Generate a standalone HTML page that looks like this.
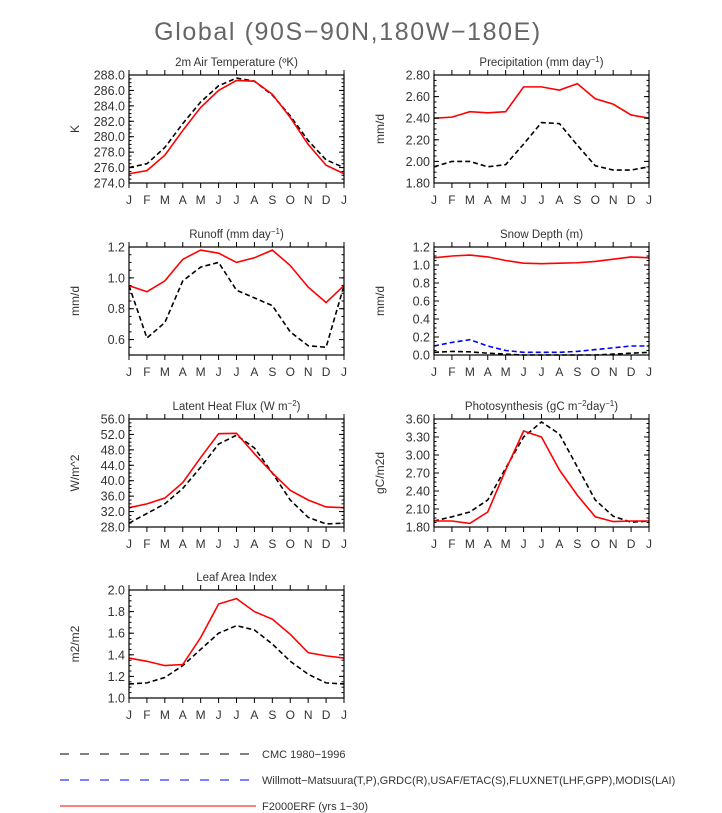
<!DOCTYPE html>
<html><head><meta charset="utf-8">
<style>
body{margin:0;background:#fff;width:722px;height:813px;overflow:hidden;font-family:"Liberation Sans",sans-serif;}
svg{display:block}
text{font-family:"Liberation Sans",sans-serif;fill:#333}
</style></head><body>
<svg id="fig" width="722" height="813" viewBox="0 0 722 813">
<text x="348" y="40" text-anchor="middle" font-size="25" letter-spacing="1.6" style="fill:#666">Global (90S−90N,180W−180E)</text>
<g>
 <line x1="60" y1="754" x2="256" y2="754" stroke="#000" stroke-width="1" stroke-dasharray="9,11"/>
 <text x="262" y="758" font-size="11">CMC 1980−1996</text>
 <line x1="60" y1="780" x2="256" y2="780" stroke="#00f" stroke-width="1" stroke-dasharray="9,11"/>
 <text x="262" y="784" font-size="11">Willmott−Matsuura(T,P),GRDC(R),USAF/ETAC(S),FLUXNET(LHF,GPP),MODIS(LAI)</text>
 <line x1="60" y1="806" x2="256" y2="806" stroke="#f00" stroke-width="1"/>
 <text x="262" y="810" font-size="11">F2000ERF (yrs 1−30)</text>
</g>
</svg>
<script>
const months=["J","F","M","A","M","J","J","A","S","O","N","D","J"];
const tempModel=[275.2,275.6,277.6,280.8,283.8,286.0,287.3,287.2,285.5,282.5,279.0,276.3,275.2];
const tempCmc=[276.0,276.5,278.6,281.7,284.5,286.6,287.6,287.2,285.4,282.7,279.5,277.0,276.0];
const precModel=[2.40,2.41,2.46,2.45,2.46,2.69,2.69,2.66,2.72,2.58,2.53,2.43,2.40];
const precCmc=[1.95,2.00,2.00,1.95,1.97,2.16,2.36,2.35,2.15,1.96,1.92,1.92,1.95];
const runModel=[0.95,0.91,0.98,1.12,1.18,1.16,1.10,1.13,1.18,1.08,0.94,0.84,0.95];
const runCmc=[0.95,0.61,0.71,0.98,1.07,1.10,0.92,0.87,0.82,0.65,0.56,0.55,0.95];
const snowModel=[1.08,1.10,1.11,1.09,1.05,1.02,1.015,1.02,1.025,1.04,1.065,1.09,1.08];
const snowObs=[0.10,0.14,0.17,0.10,0.05,0.03,0.03,0.03,0.04,0.06,0.08,0.10,0.10];
const snowCmc=[0.03,0.04,0.035,0.02,0.01,0.0,0.0,0.0,0.0,0.0,0.01,0.02,0.03];
const lhfModel=[33.0,34.0,35.5,39.5,46.0,52.2,52.3,47.0,42.0,37.5,35.0,33.2,33.0];
const lhfCmc=[29.0,31.5,34.0,38.0,43.5,49.5,51.8,48.5,42.0,35.0,30.5,28.8,29.0];
const gppModel=[1.90,1.90,1.86,2.05,2.75,3.40,3.30,2.75,2.33,1.97,1.89,1.90,1.90];
const gppCmc=[1.90,1.97,2.05,2.25,2.78,3.30,3.55,3.35,2.80,2.25,1.98,1.88,1.90];
const laiModel=[1.37,1.34,1.30,1.31,1.56,1.87,1.92,1.80,1.73,1.59,1.42,1.39,1.37];
const laiCmc=[1.13,1.14,1.19,1.30,1.45,1.60,1.67,1.63,1.50,1.34,1.22,1.14,1.13];
const tempTicks=[274,276,278,280,282,284,286,288];
const precTicks=[1.8,2.0,2.2,2.4,2.6,2.8];
const runTicks=[0.6,0.8,1.0,1.2];
const snowTicks=[0,0.2,0.4,0.6,0.8,1.0,1.2];
const lhfTicks=[28,32,36,40,44,48,52,56];
const gppTicks=[1.8,2.1,2.4,2.7,3.0,3.3,3.6];
const laiTicks=[1.0,1.2,1.4,1.6,1.8,2.0];

const NS="http://www.w3.org/2000/svg";
const svg=document.getElementById('fig');
function mk(tag,attrs,parent){const e=document.createElementNS(NS,tag);for(const k in attrs)e.setAttribute(k,attrs[k]);(parent||svg).appendChild(e);return e;}

function panel(o){
  const g=mk('g',{});
  
  
  const x0=o.x,x1=o.x+215,y0=o.y,y1=o.y+108;
  const sx=i=>x0+(x1-x0)*i/12;
  const sy=v=>y1-(v-o.min)/(o.max-o.min)*(y1-y0);
  const t=mk('text',{x:(x0+x1)/2,y:y0-9,'text-anchor':'middle','font-size':'11.5'},g);
  t.innerHTML=o.title;
  
  
  const yl=mk('text',{x:0,y:0,'text-anchor':'middle','font-size':'12',transform:`translate(${x0-50},${(y0+y1)/2}) rotate(-90)`},g);
  yl.textContent=o.ylab;
  
  
  o.series.forEach(s=>{
    const p=mk('polyline',{points:s.d.map((v,i)=>sx(i)+','+sy(v)).join(' '),fill:'none',stroke:s.c,'stroke-width':1.6,'stroke-dasharray':s.dash?'5,3':'none'},g);
    
    
  });
  const fr=mk('rect',{x:x0,y:y0,width:x1-x0,height:y1-y0,fill:'none',stroke:'#000','stroke-width':1.2},g);
  
  
  months.forEach((m,i)=>{
    const x=sx(i);
    mk('line',{x1:x,y1:y1,x2:x,y2:y1+5,stroke:'#000'},g);
    mk('line',{x1:x,y1:y0,x2:x,y2:y0-5,stroke:'#000'},g);
    const l=mk('text',{x:x,y:y1+21,'text-anchor':'middle','font-size':'12'},g);
    l.textContent=m;
    
    
  });
  o.ticks.forEach(v=>{
    const y=sy(v);
    mk('line',{x1:x0,y1:y,x2:x0+5,y2:y,stroke:'#000'},g);
    mk('line',{x1:x1,y1:y,x2:x1-5,y2:y,stroke:'#000'},g);
    const l=mk('text',{x:x0-4,y:y+4.5,'text-anchor':'end','font-size':'12.5'},g);
    l.textContent=v.toFixed(o.dec);
    
    
  });
  const step=(o.ticks[1]-o.ticks[0])/4;
  for(let v=o.min;v<=o.max+1e-9;v+=step){
    const y=sy(v);
    mk('line',{x1:x0,y1:y,x2:x0+2.5,y2:y,stroke:'#000'},g);
    mk('line',{x1:x1,y1:y,x2:x1-2.5,y2:y,stroke:'#000'},g);
  }
}
const L=129,R=434;
panel({name:'panel-air-temperature',x:L,y:75,min:274,max:288,ticks:tempTicks,dec:1,title:'2m Air Temperature (ºK)',ylab:'K',
  series:[{n:'cmc-temperature-line',d:tempCmc,c:'#000',dash:1},{n:'model-temperature-line',d:tempModel,c:'#f00'}]});
panel({name:'panel-precipitation',x:R,y:75,min:1.8,max:2.8,ticks:precTicks,dec:2,title:'Precipitation (mm day<tspan dy="-4" font-size="8">−1</tspan><tspan dy="4">)</tspan>',ylab:'mm/d',
  series:[{n:'cmc-precip-line',d:precCmc,c:'#000',dash:1},{n:'model-precip-line',d:precModel,c:'#f00'}]});
panel({name:'panel-runoff',x:L,y:247,min:0.5,max:1.2,ticks:runTicks,dec:1,title:'Runoff (mm day<tspan dy="-4" font-size="8">−1</tspan><tspan dy="4">)</tspan>',ylab:'mm/d',
  series:[{n:'cmc-runoff-line',d:runCmc,c:'#000',dash:1},{n:'model-runoff-line',d:runModel,c:'#f00'}]});
panel({name:'panel-snow-depth',x:R,y:247,min:0,max:1.2,ticks:snowTicks,dec:1,title:'Snow Depth (m)',ylab:'mm/d',
  series:[{n:'cmc-snow-line',d:snowCmc,c:'#000',dash:1},{n:'obs-snow-line',d:snowObs,c:'#00f',dash:1},{n:'model-snow-line',d:snowModel,c:'#f00'}]});
panel({name:'panel-latent-heat-flux',x:L,y:419,min:28,max:56,ticks:lhfTicks,dec:1,title:'Latent Heat Flux (W m<tspan dy="-4" font-size="8">−2</tspan><tspan dy="4">)</tspan>',ylab:'W/m^2',
  series:[{n:'cmc-lhf-line',d:lhfCmc,c:'#000',dash:1},{n:'model-lhf-line',d:lhfModel,c:'#f00'}]});
panel({name:'panel-photosynthesis',x:R,y:419,min:1.8,max:3.6,ticks:gppTicks,dec:2,title:'Photosynthesis (gC m<tspan dy="-4" font-size="8">−2</tspan><tspan dy="4">day</tspan><tspan dy="-4" font-size="8">−1</tspan><tspan dy="4">)</tspan>',ylab:'gC/m2d',
  series:[{n:'cmc-gpp-line',d:gppCmc,c:'#000',dash:1},{n:'model-gpp-line',d:gppModel,c:'#f00'}]});
panel({name:'panel-leaf-area-index',x:L,y:590,min:1.0,max:2.0,ticks:laiTicks,dec:1,title:'Leaf Area Index',ylab:'m2/m2',
  series:[{n:'cmc-lai-line',d:laiCmc,c:'#000',dash:1},{n:'model-lai-line',d:laiModel,c:'#f00'}]});
</script>
</body></html>
